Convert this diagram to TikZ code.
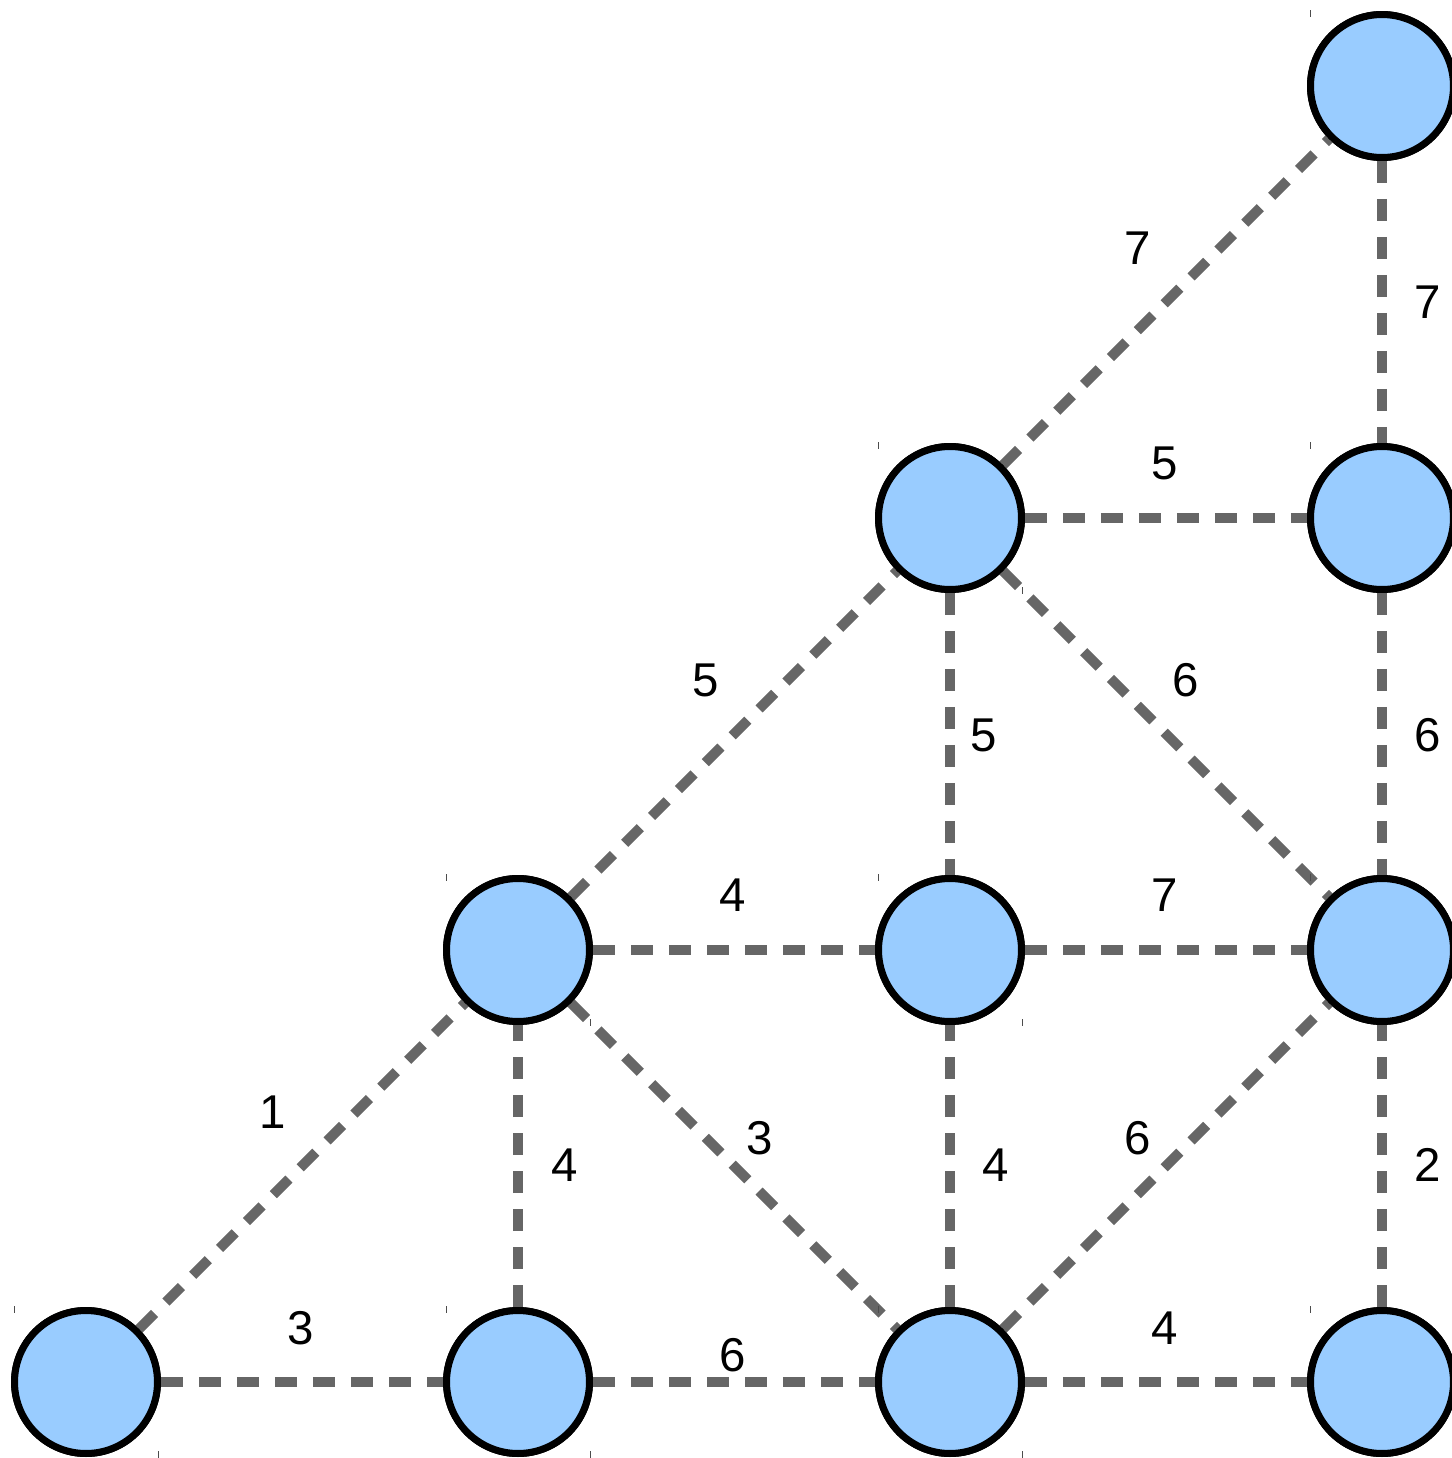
\documentclass[tikz,border=0pt]{standalone}
\usepackage{fontspec}
\setmainfont{Liberation Sans}
\usetikzlibrary{calc}
\definecolor{nodefill}{HTML}{99CCFF}
\definecolor{edgegray}{HTML}{666666}
\tikzset{
  vtx/.style={circle, draw=black, fill=nodefill, line width=0.14cm, minimum size=2.86cm, inner sep=0pt},
  link/.style={draw=edgegray, line width=0.2cm, dash pattern=on 0.44cm off 0.32cm},
  lbl/.style={font=\fontsize{27}{30}\selectfont, text=black, inner sep=0pt},
  tickmark/.style={draw=black!70, line width=0.02cm}
}
\begin{document}
\begin{tikzpicture}[x=0.02cm, y=-0.02cm]
\useasboundingbox (0,0) rectangle (1452,1458);
% nodes
\node[vtx] (a) at (86,1382) {};
\node[vtx] (b) at (518,1382) {};
\node[vtx] (c) at (950,1382) {};
\node[vtx] (d) at (1382,1382) {};
\node[vtx] (e) at (518,950) {};
\node[vtx] (f) at (950,950) {};
\node[vtx] (g) at (1382,950) {};
\node[vtx] (h) at (950,518) {};
\node[vtx] (i) at (1382,518) {};
\node[vtx] (k) at (1382,86) {};
% edges
\draw[link] (a) -- (b) node[lbl, midway, shift={(-1,-54)}] {3};
\draw[link] (b) -- (c) node[lbl, midway, shift={(-1,-27)}] {6};
\draw[link] (c) -- (d) node[lbl, midway, shift={(-1,-54)}] {4};
\draw[link] (a) -- (e) node[lbl, midway, shift={(-29,-54)}] {1};
\draw[link] (b) -- (e) node[lbl, midway, shift={(47,-1)}] {4};
\draw[link] (e) -- (c) node[lbl, midway, shift={(26,-28)}] {3};
\draw[link] (c) -- (f) node[lbl, midway, shift={(46,-1)}] {4};
\draw[link] (c) -- (g) node[lbl, midway, shift={(-28,-28)}] {6};
\draw[link] (d) -- (g) node[lbl, midway, shift={(46,-1)}] {2};
\draw[link] (e) -- (f) node[lbl, midway, shift={(-1,-55)}] {4};
\draw[link] (f) -- (g) node[lbl, midway, shift={(-1,-55)}] {7};
\draw[link] (e) -- (h) node[lbl, midway, shift={(-28,-54)}] {5};
\draw[link] (h) -- (f) node[lbl, midway, shift={(34,1)}] {5};
\draw[link] (h) -- (g) node[lbl, midway, shift={(20,-54)}] {6};
\draw[link] (i) -- (g) node[lbl, midway, shift={(46,1)}] {6};
\draw[link] (h) -- (i) node[lbl, midway, shift={(-1,-55)}] {5};
\draw[link] (h) -- (k) node[lbl, midway, shift={(-28,-54)}] {7};
\draw[link] (k) -- (i) node[lbl, midway, shift={(46,0)}] {7};
% redraw nodes on top
\foreach \n in {a,b,c,d,e,f,g,h,i,k} {
  \node[vtx] at (\n) {};
  \draw[tickmark] ($(\n)+(-72,-76)$) -- ++(0,7);
  \draw[tickmark] ($(\n)+(72,69)$) -- ++(0,7);
}
\end{tikzpicture}
\end{document}
